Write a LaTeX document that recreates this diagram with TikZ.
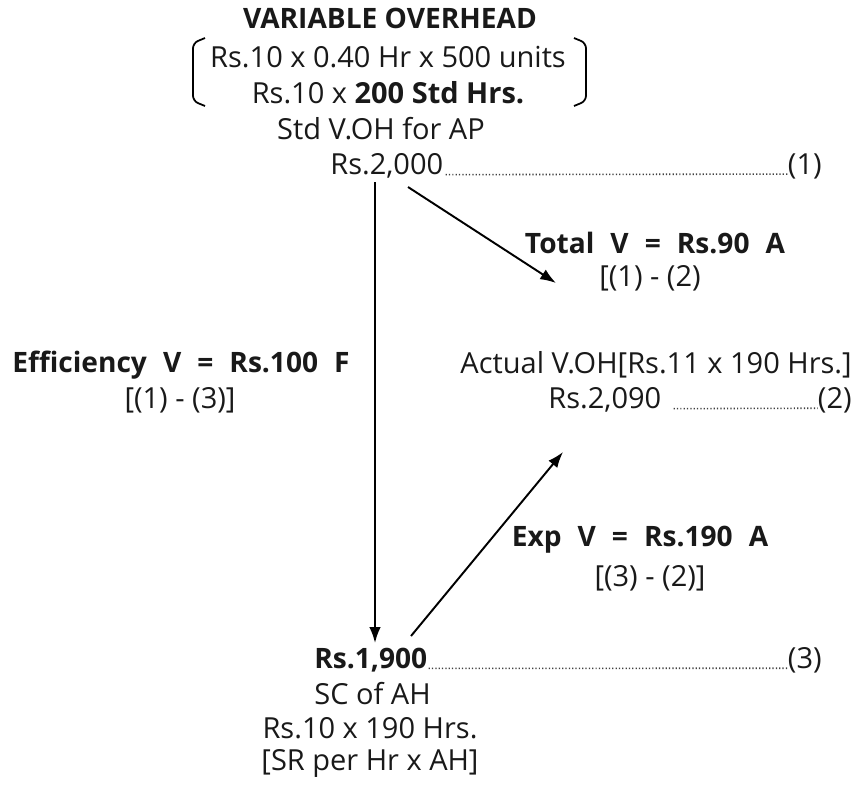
\documentclass[tikz,border=0pt]{standalone}
\usepackage{fontspec}
\setmainfont{Open Sans}
\newfontfamily\wbf{Open Sans}[WordSpace=2.2]
\usetikzlibrary{arrows.meta}
\tikzset{
  txt/.style={inner sep=0pt, font=\fontsize{16.5}{19}\selectfont, text=black!90},
  btxt/.style={txt, font=\fontsize{16}{19}\selectfont\bfseries},
  wbtxt/.style={txt, font=\fontsize{16}{19}\wbf\bfseries},
  arr/.style={line width=1.1pt, -{Latex[length=9pt,width=6.5pt]}},
  leader/.style={line width=0.9pt, dash pattern=on 0.7pt off 1.2pt, black!75},
  brk/.style={line width=1pt, rounded corners=3pt}
}
\begin{document}
\begin{tikzpicture}[x=0.02cm,y=-0.02cm]
\useasboundingbox (0,0) rectangle (854,789);
% top block
\node[btxt] (title) at (390,18) {VARIABLE OVERHEAD};
\node[txt] (l1) at (388,57) {Rs.10 x 0.40 Hr x 500 units};
\node[txt] (l2) at (388,93) {Rs.10 x \textbf{200 Std Hrs.}};
\node[txt] (l3) at (381,129) {Std V.OH for AP};
\node[txt, anchor=west] (r2000) at (330,166) {Rs.2,000};
\node[txt, anchor=east] (n1) at (822,166) {(1)};
\draw[leader] (r2000.base east) ++(2,0) -- (n1.base west);
% brackets
\draw[brk] (205,38) -- (193,43) -- (193,101) -- (205,106);
\draw[brk] (574,38) -- (586,43) -- (586,101) -- (574,106);
% total variance
\node[wbtxt] (tot) at (655,243) {Total V = Rs.90 A};
\node[txt] (tot2) at (650,278) {[(1) - (2)};
% efficiency
\node[wbtxt, anchor=west] (eff) at (12,365) {Efficiency V = Rs.100 F};
\node[txt] (eff2) at (180,400) {[(1) - (3)]};
% actual
\node[txt, anchor=east] (act) at (852,365) {Actual V.OH[Rs.11 x 190 Hrs.]};
\node[txt, anchor=west] (r2090) at (548,400) {Rs.2,090};
\node[txt, anchor=east] (n2) at (852,400) {(2)};
\draw[leader] (r2090.base east) ++(12,0) -- (n2.base west);
% expenditure
\node[wbtxt] (exp) at (640,540) {Exp V = Rs.190 A};
\node[txt] (exp2) at (650,578) {[(3) - (2)]};
% bottom
\node[btxt, anchor=west] (r1900) at (314,660) {Rs.1,900};
\node[txt, anchor=east] (n3) at (822,660) {(3)};
\draw[leader] (r1900.base east) ++(1,0) -- (n3.base west);
\node[txt, anchor=west] (sc) at (314,694) {SC of AH};
\node[txt] (b3) at (370,728) {Rs.10 x 190 Hrs.};
\node[txt] (b4) at (370,763) {[SR per Hr x AH]};
% arrows
\coordinate (vA) at (375,182);
\coordinate (vB) at (375,643);
\coordinate (dA) at (408,187);
\coordinate (dB) at (556,283);
\coordinate (eA) at (411,636);
\coordinate (eB) at (563,452);
\draw[arr] (vA) -- (vB);
\draw[arr] (dA) -- (dB);
\draw[arr] (eA) -- (eB);
\end{tikzpicture}
\end{document}
